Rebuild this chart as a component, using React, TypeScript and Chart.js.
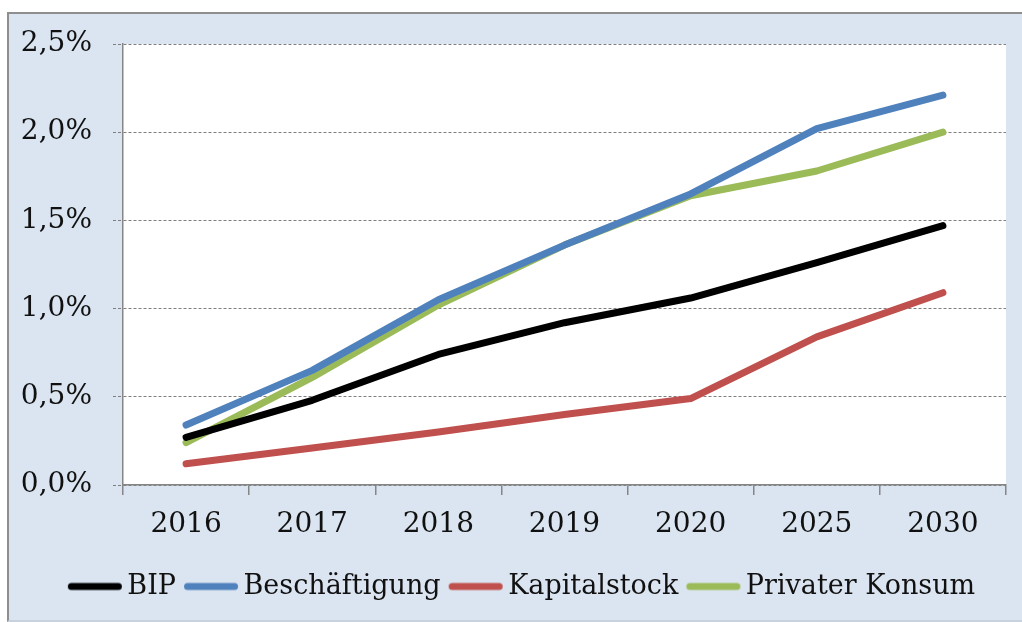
import React, { useEffect, useRef } from "react";
import { Chart, registerables } from "chart.js";

Chart.register(...registerables);

const categories = ["2016", "2017", "2018", "2019", "2020", "2025", "2030"];
const bip = [0.27, 0.48, 0.74, 0.92, 1.06, 1.26, 1.47];
const beschaeftigung = [0.34, 0.65, 1.05, 1.36, 1.65, 2.02, 2.21];
const kapitalstock = [0.12, 0.21, 0.3, 0.4, 0.49, 0.84, 1.09];
const privaterKonsum = [0.24, 0.61, 1.02, 1.36, 1.64, 1.78, 2.0];
const seriesNames = ["BIP", "Beschäftigung", "Kapitalstock", "Privater Konsum"];
const seriesColors = ["#000000", "#4f81bd", "#c0504d", "#9bbb59"];

const FONT = "'DejaVu Serif', serif";

const plotBg = {
  id: "plotBg",
  beforeDraw(chart: any) {
    const { ctx, chartArea } = chart;
    ctx.save();
    ctx.fillStyle = "#ffffff";
    ctx.fillRect(chartArea.left, chartArea.top, chartArea.right - chartArea.left, chartArea.bottom - chartArea.top);
    ctx.restore();
  },
};

// nudge the legend block a little to the right, as in the original
const legendShift = {
  id: "legendShift",
  afterLayout(chart: any) {
    const lg = chart.legend;
    if (lg) {
      lg.left += 14;
      lg.right += 14;
    }
  },
};

// legend swatch: a thick line with round caps, shifted right inside its image
function legendSwatch(color: string): HTMLCanvasElement {
  const c = document.createElement("canvas");
  c.width = 64;
  c.height = 10;
  const g = c.getContext("2d")!;
  g.strokeStyle = color;
  g.lineWidth = 7;
  g.lineCap = "round";
  g.beginPath();
  g.moveTo(12.5, 5);
  g.lineTo(59.5, 5);
  g.stroke();
  return c;
}

export default function App() {
  const ref = useRef<HTMLCanvasElement | null>(null);

  useEffect(() => {
    if (!ref.current) return;
    const data = [bip, beschaeftigung, kapitalstock, privaterKonsum];
    const chart = new Chart(ref.current, {
      type: "line",
      data: {
        labels: categories,
        datasets: data.map((d, i) => ({
          label: seriesNames[i],
          data: d,
          borderColor: seriesColors[i],
          backgroundColor: seriesColors[i],
          borderWidth: 7,
          pointRadius: 0,
          pointStyle: legendSwatch(seriesColors[i]),
          tension: 0,
          borderJoinStyle: "round",
          borderCapStyle: "round",
        })),
      },
      plugins: [plotBg, legendShift],
      options: {
        animation: false,
        responsive: false,
        maintainAspectRatio: false,
        layout: { padding: { top: 30, right: 16, left: 0, bottom: 10 } },
        plugins: {
          tooltip: { enabled: false },
          legend: {
            position: "bottom",
            labels: {
              usePointStyle: true,
              pointStyleWidth: 46,
              color: "#111",
              font: { family: FONT, size: 27 },
              padding: 8,
            },
          },
        },
        scales: {
          x: {
            offset: true,
            grid: {
              offset: true,
              drawOnChartArea: false,
              drawTicks: true,
              tickLength: 10,
              color: "#868686",
              lineWidth: 1.5,
            },
            border: { color: "#868686", width: 1.5 },
            ticks: {
              color: "#111",
              font: { family: FONT, size: 28 },
              padding: 13,
              maxRotation: 0,
            },
            afterFit: (s: any) => {
              s.height = 80;
            },
          },
          y: {
            min: 0,
            max: 2.5,
            grid: {
              color: "#7f7f7f",
              lineWidth: 1,
              tickLength: 10,
              tickBorderDash: [3, 2],
            },
            border: { color: "#868686", width: 1.5, dash: [3, 2] },
            ticks: {
              stepSize: 0.5,
              color: "#111",
              font: { family: FONT, size: 28 },
              padding: 21,
              callback: (v: any) => Number(v).toFixed(1).replace(".", ",") + "%",
            },
            afterFit: (s: any) => {
              s.width = 114;
              s.paddingTop = 0;
              s.paddingBottom = 0;
            },
          },
        },
      },
    });
    return () => chart.destroy();
  }, []);

  return (
    <div
      style={{
        position: "absolute",
        left: 0,
        top: 0,
        width: 1022,
        height: 622,
        overflow: "hidden",
        background: "#ffffff",
      }}
    >
      <div
        style={{
          position: "absolute",
          left: 7,
          top: 12,
          width: 1030,
          height: 606,
          background: "#dbe5f1",
          borderLeft: "2px solid #8e8e8e",
          borderTop: "2px solid #8e8e8e",
          borderBottom: "2px solid #c8d2de",
        }}
      >
        <canvas
          ref={ref}
          width={1013}
          height={606}
          style={{ position: "absolute", left: 0, top: 0, width: 1013, height: 606 }}
        />
      </div>
    </div>
  );
}
